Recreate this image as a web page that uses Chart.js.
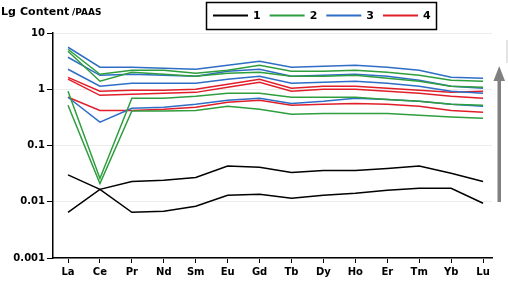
<!DOCTYPE html>
<html><head><meta charset="utf-8">
<script src="https://cdn.jsdelivr.net/npm/chart.js@4/dist/chart.umd.min.js"></script>
<style>html,body{margin:0;padding:0;background:#fff}#wrap{width:508px;height:282px;position:relative}</style>
</head><body><div id="wrap"><canvas id="c" width="508" height="282"></canvas></div>
<script>
const categories = ['La','Ce','Pr','Nd','Sm','Eu','Gd','Tb','Dy','Ho','Er','Tm','Yb','Lu'];
const yTicks = [0.001, 0.01, 0.1, 1, 10];
const groupLabels = ['1', '2', '3', '4'];
const groupColors = ['#000000', '#2e9e3e', '#2f6ec6', '#e11f2a'];

// group 1 (black)
const s1a = [0.0065, 0.0166, 0.023, 0.024, 0.027, 0.043, 0.041, 0.033, 0.036, 0.036, 0.039, 0.043, 0.032, 0.023];
const s1b = [0.030, 0.0166, 0.0065, 0.0068, 0.0083, 0.013, 0.0136, 0.0115, 0.013, 0.0142, 0.016, 0.0174, 0.0174, 0.0094];
// group 2 (green)
const s2a = [5.14, 1.85, 2.18, 2.18, 1.93, 2.18, 2.67, 2.09, 2.09, 2.18, 2.01, 1.77, 1.45, 1.39];
const s2b = [4.74, 1.39, 2.01, 1.85, 1.70, 1.93, 2.01, 1.70, 1.70, 1.77, 1.57, 1.39, 1.13, 1.09];
const s2c = [0.92, 0.026, 0.69, 0.69, 0.75, 0.85, 0.85, 0.72, 0.72, 0.72, 0.66, 0.61, 0.54, 0.52];
const s2d = [0.52, 0.021, 0.41, 0.41, 0.42, 0.50, 0.44, 0.36, 0.37, 0.37, 0.37, 0.345, 0.32, 0.305];
// group 3 (blue)
const s3a = [5.58, 2.46, 2.46, 2.36, 2.27, 2.67, 3.15, 2.46, 2.56, 2.67, 2.46, 2.18, 1.63, 1.57];
const s3b = [3.71, 1.77, 1.85, 1.77, 1.70, 2.09, 2.27, 1.70, 1.77, 1.85, 1.70, 1.45, 1.13, 1.04];
const s3c = [2.27, 1.13, 1.28, 1.28, 1.28, 1.51, 1.70, 1.28, 1.33, 1.39, 1.28, 1.13, 0.92, 0.85];
const s3d = [0.72, 0.26, 0.46, 0.48, 0.54, 0.64, 0.69, 0.56, 0.61, 0.69, 0.66, 0.61, 0.54, 0.50];
// group 4 (red)
const s4a = [1.63, 0.92, 0.96, 0.96, 1.00, 1.23, 1.51, 1.04, 1.13, 1.13, 1.04, 0.96, 0.88, 0.92];
const s4b = [1.51, 0.78, 0.815, 0.85, 0.88, 1.09, 1.33, 0.92, 1.00, 1.00, 0.92, 0.85, 0.75, 0.69];
const s4c = [0.72, 0.42, 0.42, 0.44, 0.48, 0.59, 0.64, 0.52, 0.54, 0.56, 0.54, 0.50, 0.42, 0.39];

const seriesByGroup = [[s1a, s1b], [s2a, s2b, s2c, s2d], [s3a, s3b, s3c, s3d], [s4a, s4b, s4c]];

const datasets = [];
seriesByGroup.forEach((list, g) => {
  list.forEach(arr => {
    datasets.push({
      label: groupLabels[g],
      data: arr.map((v, i) => ({x: i, y: v})),
      borderColor: groupColors[g],
      backgroundColor: groupColors[g],
      borderWidth: 1.5,
      pointRadius: 0,
      tension: 0,
      fill: false
    });
  });
});

const FONT = "'DejaVu Sans', sans-serif";

const decor = {
  id: 'decor',
  afterDraw(chart) {
    const ctx = chart.ctx;
    ctx.save();
    // title
    ctx.fillStyle = '#000';
    ctx.textBaseline = 'alphabetic';
    ctx.textAlign = 'left';
    ctx.font = "bold 11px " + FONT;
    ctx.fillText('Lg', 1, 15);
    ctx.fillText('Content', 20, 15);
    ctx.font = "bold 9px " + FONT;
    ctx.fillText('/PAAS', 72, 15);
    // legend box
    ctx.strokeStyle = '#000';
    ctx.lineWidth = 1.5;
    ctx.strokeRect(206.5, 2.5, 230, 27);
    let x = 213;
    const ly = 15.5;
    ctx.font = "bold 11px " + FONT;
    ctx.textBaseline = 'middle';
    groupLabels.forEach((lab, g) => {
      ctx.strokeStyle = groupColors[g];
      ctx.lineWidth = 2;
      ctx.beginPath();
      ctx.moveTo(x, ly);
      ctx.lineTo(x + 35, ly);
      ctx.stroke();
      ctx.fillStyle = '#000';
      ctx.fillText(lab, x + 40, ly + 1);
      x += 40 + ctx.measureText(lab).width + 9;
    });
    // gray arrow
    ctx.fillStyle = '#808080';
    ctx.fillRect(497.5, 80, 3.5, 122);
    ctx.beginPath();
    ctx.moveTo(499.2, 66);
    ctx.lineTo(493.5, 81);
    ctx.lineTo(505, 81);
    ctx.closePath();
    ctx.fill();
    // cut-off element at right edge
    ctx.fillStyle = '#e4e4e4';
    ctx.fillRect(506, 40, 2, 23);
    ctx.restore();
  }
};

new Chart(document.getElementById('c'), {
  type: 'line',
  data: { datasets },
  options: {
    responsive: false,
    animation: false,
    devicePixelRatio: 1,
    layout: { padding: { left: 0, top: 33, right: 16, bottom: 0 } },
    plugins: { legend: { display: false }, tooltip: { enabled: false } },
    scales: {
      x: {
        type: 'linear',
        min: -0.47,
        max: 13.28,
        afterBuildTicks: s => { s.ticks = categories.map((c, i) => ({value: i})); },
        afterFit: s => { s.height = 24; },
        ticks: {
          autoSkip: false,
          maxRotation: 0,
          padding: 3,
          color: '#000',
          font: { family: FONT, size: 10, weight: 'bold' },
          callback: v => categories[v]
        },
        grid: { drawOnChartArea: false, drawTicks: true, tickLength: 5, tickColor: '#000', tickWidth: 1 },
        border: { display: true, color: '#000', width: 1.5 }
      },
      y: {
        type: 'logarithmic',
        min: 0.001,
        max: 10,
        afterBuildTicks: s => { s.ticks = yTicks.map(v => ({value: v, major: true})); },
        afterFit: s => { s.width = 53; },
        ticks: {
          padding: 2,
          color: '#000',
          font: { family: FONT, size: 10, weight: 'bold' },
          callback: v => String(v)
        },
        grid: { color: '#ececec', lineWidth: 1, drawTicks: true, tickLength: 6, tickColor: '#000' },
        border: { display: true, color: '#000', width: 1.5 }
      }
    }
  },
  plugins: [decor]
});
</script>
</body></html>
